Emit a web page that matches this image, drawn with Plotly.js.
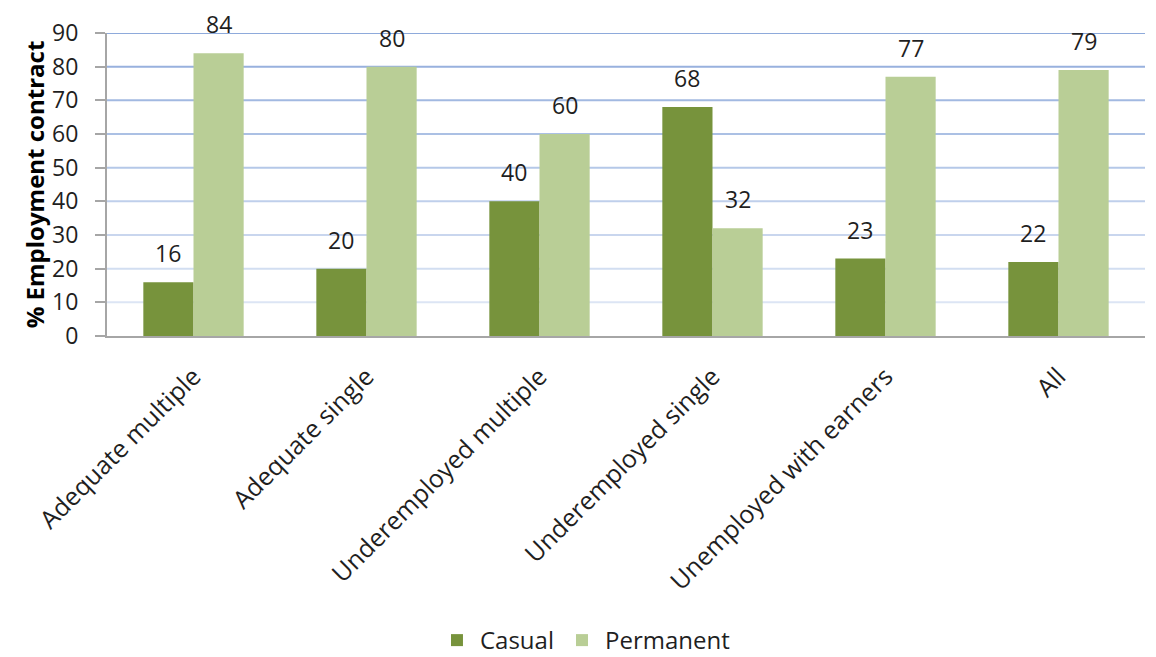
<!DOCTYPE html>
<html>
<head>
<meta charset="utf-8">
<script src="https://cdn.plot.ly/plotly-3.0.1.min.js"></script>
<style>
  html, body { margin: 0; padding: 0; background: #fff; }
  #chart { width: 1156px; height: 657px; }
</style>
</head>
<body>
<div id="chart"></div>
<script>
// Household groups and share of workers by contract type (%)
const categories = [
  "Adequate multiple",
  "Adequate single",
  "Underemployed multiple",
  "Underemployed single",
  "Unemployed with earners",
  "All"
];
const casual = [16, 20, 40, 68, 23, 22];
const permanent = [84, 80, 60, 32, 77, 79];
const yTicks = [0, 10, 20, 30, 40, 50, 60, 70, 80, 90];

const FONT = "'Open Sans', sans-serif";
const TEXT = "#1f1f1f";
const CASUAL_COLOR = "#77933C";
const PERM_COLOR = "#B9CE96";

const W = 1156, H = 657;
const margin = { l: 107, r: 11, t: 33, b: 321 };
const plotW = W - margin.l - margin.r;
const bargap = 0.42;
const barPx = plotW / categories.length * (1 - bargap) / 2;

const traces = [
  {
    type: "bar", name: "Casual", x: categories, y: casual,
    marker: { color: CASUAL_COLOR }, hoverinfo: "x+y"
  },
  {
    type: "bar", name: "Permanent", x: categories, y: permanent,
    marker: { color: PERM_COLOR }, hoverinfo: "x+y"
  }
];

// Value labels sit a little above each bar
const annotations = [];
[casual, permanent].forEach((series, si) => {
  series.forEach((v, i) => {
    annotations.push({
      x: categories[i], y: v, xref: "x", yref: "y",
      text: String(v), showarrow: false,
      xshift: (si === 0 ? -1 : 1) * barPx / 2,
      yshift: 11, yanchor: "bottom",
      font: { family: FONT, size: 23, color: TEXT }
    });
  });
});

// Horizontal gridlines, fading from blue at the top to pale blue near the base
function mix(a, b, t) {
  const pa = a.match(/\w\w/g).map(h => parseInt(h, 16));
  const pb = b.match(/\w\w/g).map(h => parseInt(h, 16));
  return "rgb(" + pa.map((c, k) => Math.round(c + (pb[k] - c) * t)).join(",") + ")";
}
const shapes = yTicks.filter(v => v > 0).map(v => ({
  type: "line", xref: "paper", yref: "y", x0: 0, x1: 1, y0: v, y1: v,
  line: { color: mix("DCE5F4", "8EAADB", (v - 10) / 80), width: 2 },
  layer: "below"
}));

const layout = {
  width: W, height: H,
  margin: Object.assign({ autoexpand: false }, margin),
  paper_bgcolor: "#fff", plot_bgcolor: "#fff",
  barmode: "group", bargap: bargap, bargroupgap: 0,
  font: { family: FONT, color: TEXT },
  showlegend: true,
  legend: {
    orientation: "h", x: 0.315, xanchor: "left",
    y: -1.005, yanchor: "middle",
    font: { family: FONT, size: 24, color: TEXT },
    itemwidth: 36, traceorder: "normal"
  },
  xaxis: {
    type: "category", tickangle: -45, automargin: false,
    tickfont: { family: FONT, size: 25, color: TEXT },
    ticklabelstandoff: 14,
    showline: true, linecolor: "#A6A6A6", linewidth: 2,
    ticks: "", showgrid: false, zeroline: false
  },
  yaxis: {
    range: [0, 90], tickvals: yTicks, ticktext: yTicks.map(String),
    automargin: false,
    tickfont: { family: FONT, size: 23, color: TEXT },
    ticklabelstandoff: 12,
    showline: true, linecolor: "#A6A6A6", linewidth: 2,
    ticks: "outside", ticklen: 10, tickcolor: "#A6A6A6", tickwidth: 2,
    showgrid: false, zeroline: false,
    title: { text: "% Employment contract", standoff: 1,
             font: { family: FONT, size: 24, color: "#000", weight: "bold" } }
  },
  shapes: shapes,
  annotations: annotations
};

Plotly.newPlot("chart", traces, layout, { displayModeBar: false, staticPlot: true });
</script>
</body>
</html>
